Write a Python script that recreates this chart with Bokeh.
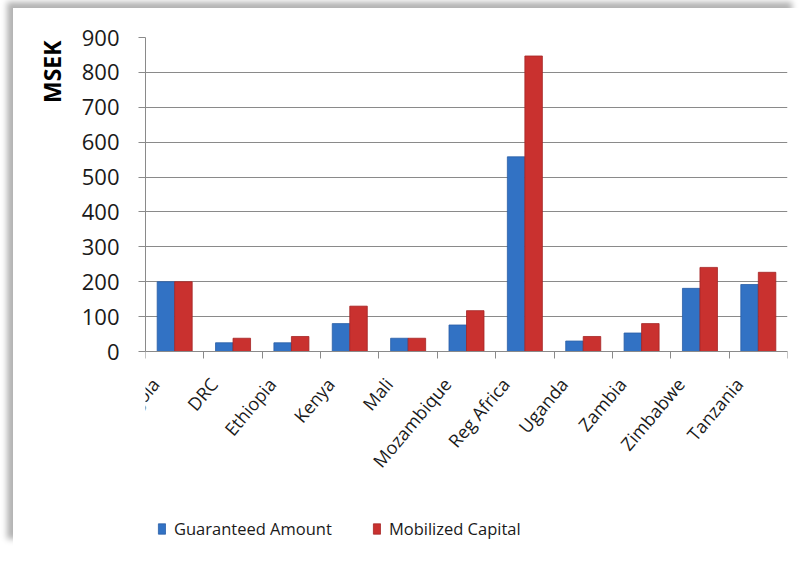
import numpy as np
from bokeh.plotting import figure
from bokeh.models import (Range1d, FixedTicker, Legend, LegendItem, Title, ColumnDataSource)
from bokeh.transform import dodge
from bokeh.embed import file_html
from bokeh.resources import INLINE

countries = ["Angola", "DRC", "Ethiopia", "Kenya", "Mali", "Mozambique", "Reg Africa",
             "Uganda", "Zambia", "Zimbabwe", "Tanzania"]
guaranteed = [200, 25, 25, 80, 38, 76, 558, 30, 53, 181, 192]
mobilized = [200, 38, 43, 130, 38, 117, 847, 43, 80, 241, 227]
y_ticks = [0, 100, 200, 300, 400, 500, 600, 700, 800, 900]

FONT = "Open Sans"
GRID = "#8a8a8a"
TEXT = "#1a1a1a"

# the value area (0..900) is 314 px tall; the frame continues 196 px below 0
# so that the legend sits inside it
VALUE_PX = 314
BELOW_PX = 196
Y_MAX = 900
Y_MIN = -Y_MAX * BELOW_PX / VALUE_PX

n = len(countries)
centers = np.arange(n) + 0.5
label_pos = centers - 0.33   # slanted names end a little left of each group's centre
src = ColumnDataSource(dict(country=countries, center=centers,
                            guaranteed=guaranteed, mobilized=mobilized))

p = figure(x_range=Range1d(0, n), y_range=Range1d(Y_MIN, Y_MAX),
           frame_width=642, frame_height=VALUE_PX + BELOW_PX,
           min_border_left=132, min_border_right=13, min_border_top=29, min_border_bottom=0,
           output_backend="svg", toolbar_location=None, tools="")
p.margin = (8, 0, 0, 13)
p.styles = {"box-shadow": "-7px -7px 6px -1px rgba(0,0,0,0.30)"}
p.outline_line_color = None
p.background_fill_color = "white"
p.border_fill_color = "white"

r1 = p.vbar(x=dodge("center", -0.15), top="guaranteed", width=0.3, source=src,
            fill_color="#3272c4", line_color="#2a5ea6", line_width=0.8)
r2 = p.vbar(x=dodge("center", 0.15), top="mobilized", width=0.3, source=src,
            fill_color="#c9312f", line_color="#a52524", line_width=0.8)

# y axis
ya = p.yaxis[0]
ya.bounds = (0, Y_MAX)
ya.ticker = FixedTicker(ticks=y_ticks)
ya.major_tick_out = 7
ya.major_tick_in = 0
ya.minor_tick_line_color = None
ya.axis_line_color = GRID
ya.major_tick_line_color = GRID
ya.major_label_text_font = FONT
ya.major_label_text_font_size = "22px"
ya.major_label_text_color = TEXT
ya.major_label_standoff = 19
p.ygrid.grid_line_color = GRID
p.ygrid.ticker = FixedTicker(ticks=y_ticks)
p.xgrid.grid_line_color = None

# x axis drawn at value 0: names near group centres, ticks at category boundaries
xa = p.xaxis[0]
xa.fixed_location = 0
xa.ticker = FixedTicker(ticks=list(label_pos), minor_ticks=list(range(n + 1)))
xa.major_label_overrides = {float(c): name for c, name in zip(label_pos, countries)}
xa.major_tick_line_color = None
xa.major_tick_out = 0
xa.major_tick_in = 0
xa.minor_tick_line_color = GRID
xa.minor_tick_out = 7
xa.minor_tick_in = 0
xa.axis_line_color = GRID
xa.major_label_orientation = 0.87
xa.major_label_standoff = 22
xa.major_label_text_font = FONT
xa.major_label_text_font_size = "18px"
xa.major_label_text_color = TEXT

# y axis title at the top
t = Title(text="MSEK", align="right", text_font=FONT, text_font_style="bold",
          text_font_size="23px", text_color="black", standoff=22, offset=3)
p.add_layout(t, "left")

legend = Legend(items=[LegendItem(label="Guaranteed Amount", renderers=[r1]),
                       LegendItem(label="Mobilized Capital", renderers=[r2])],
                orientation="horizontal", location=(12, 7),
                border_line_color=None, background_fill_alpha=0,
                label_text_font=FONT, label_text_font_size="16.5px",
                label_text_color=TEXT,
                glyph_width=9, glyph_height=13, label_standoff=8, spacing=40,
                margin=0, padding=5)
p.add_layout(legend, "center")

open("out.html", "w").write(file_html(p, INLINE))
